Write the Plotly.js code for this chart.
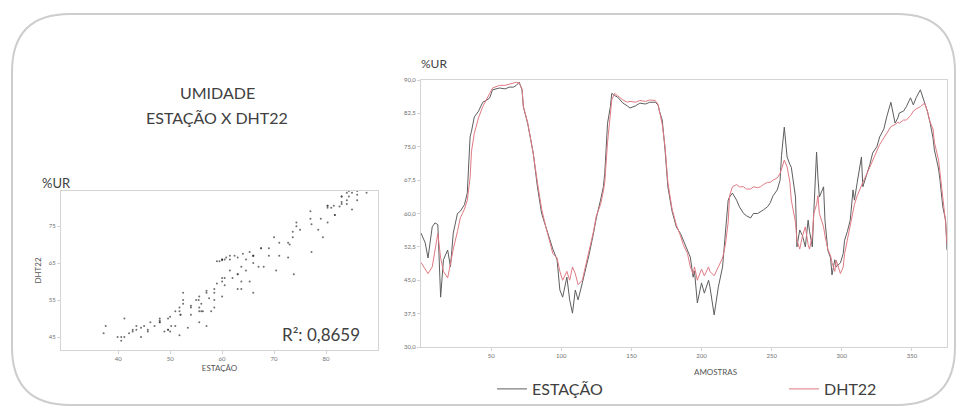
<!DOCTYPE html>
<html>
<head>
<meta charset="utf-8">
<script src="https://cdn.plot.ly/plotly-3.0.1.min.js"></script>
<style>html,body{margin:0;padding:0;background:#fff;}#chart{width:963px;height:414px;}</style>
</head>
<body>
<div id="chart"></div>
<script>
// Sample index (AMOSTRAS)
const amostras = [0,3,5,8,10,12,14,16,19,21,23,26,28,31,33,35,36,38,41,44,47,49,51,54,56,60,63,66,68,70,72,73,76,78,80,83,86,89,92,94,97,99,101,104,106,108,110,112,115,118,120,123,125,128,130,131,133,135,136,138,140,142,144,147,149,153,156,160,163,167,169,170,172,174,176,179,182,185,187,190,192,194,195,197,200,202,205,206,209,212,215,217,219,220,222,225,227,230,232,235,237,240,242,244,247,249,251,254,256,257,259,261,263,264,267,268,270,272,274,276,277,279,280,282,283,284,287,288,290,292,293,295,296,299,301,302,304,306,308,309,311,314,315,318,320,322,325,327,330,332,335,338,340,341,344,346,349,351,353,356,358,359,361,363,365,366,369,370,372,374,375];
// %UR – ESTAÇÃO (reference station)
const estacao = [55.6,53.4,50,57,57.9,57.5,41.2,49.6,51.8,48,55.6,60,60.5,62,64.6,77.2,78.5,81.7,83,85,85.5,86,87.8,88,88.2,88,88.4,88.4,88.8,89.5,87.8,84,80.3,77,73.6,66,60,57,54,52,49.6,42.8,41.2,45.7,40.6,37.6,42.8,40.6,44.4,48,51,55.6,59,63,66,69,80.3,84,87,86.5,86.2,85.5,84.8,84.2,83.7,84.2,84.8,84.6,85,85,84.4,83,81,74.3,66,60.5,57,55.5,54,52,50.2,45.7,47,39.9,44.4,42.1,45,43.5,37.2,43.5,48,55.6,63,63.7,64.6,63,61.5,60,59.5,59,60,60,60.5,60.8,61.5,62.4,64,65.3,67.5,73,79.4,72.7,71,70.4,63.7,52.5,56.3,55,52.5,58.5,56,52.5,60,73.8,68,63.7,66,58.5,51.8,50,46.2,49.6,48,48.9,51,54,56,58.5,65.3,63,67,72.7,66,69,71,73.6,75,77.2,79,81.7,85,80.3,81.5,82.6,83,84,86,84.4,86,87.8,86,84.8,83,80.3,77,74.3,70,67.5,61.5,58.5,51.8];
// %UR – DHT22 sensor
const dht22 = [49,47.5,46.5,48,52,55.5,50,47,45.5,49,52,56,59,61,63,68,74,78,81.5,84,86,87,88.2,88.5,88.8,88.8,89,89.2,89.5,89.3,88,84,80.5,77,73.5,67,61,57,53.5,51,50,47,45,47,45,48,46.5,44,45,49,52,56,59.5,62,65,67,76,82,85.5,87,86.5,86,85.5,85,85.2,85,85.4,85.2,85.5,85.4,84.5,83,80,75,67,61,57.5,55,53,51,48,46.5,48,45,47.5,46,48,47,46,48,50,53,58,64,66,66.5,66,66,65.5,65.5,66,65.8,66,66.5,67,67,67.5,68,69,70,72,70.5,67,63,58,54,52,55,57,53,52,55,60,62,64,60,57,55,52,50.5,49,47,49.5,46.5,48,51,54,57,60,62,64,66.5,67,69,70.5,72,74,75.5,77,78,79.5,80,80.5,80.3,81,81,82,83,83.5,84,84.5,84.8,83,80.5,79,76,72,69,63,58,53];

const tsYTicks = [30,37.5,45,52.5,60,67.5,75,82.5,90];
const tsXTicks = [50,100,150,200,250,300,350];
const scXTicks = [40,50,60,70,80];
const scYTicks = [45,55,65,75];
const r2Text = 'R²: 0,8659';

const W = 963, H = 414;
const px = v => v / W;
const py = v => 1 - v / H;

const grayLine = '#5e5e5e';
const redLine = '#e07a84';
const axisCol = '#d4d4d4';
const textCol = '#404040';
const FONT = 'Lato, "Open Sans", sans-serif';

const traces = [
  {
    type: 'scatter', mode: 'markers', x: estacao, y: dht22,
    xaxis: 'x', yaxis: 'y', showlegend: false,
    marker: {size: 2, color: '#333', opacity: 0.7},
    hoverinfo: 'skip', cliponaxis: true
  },
  {
    type: 'scatter', mode: 'lines', name: 'ESTAÇÃO', x: amostras, y: estacao,
    xaxis: 'x2', yaxis: 'y2', line: {color: grayLine, width: 1}, legend: 'legend'
  },
  {
    type: 'scatter', mode: 'lines', name: 'DHT22', x: amostras, y: dht22,
    xaxis: 'x2', yaxis: 'y2', line: {color: redLine, width: 1}, legend: 'legend2'
  }
];

// rounded frame path (pixel coords -> paper)
const L = 12, T = 14, R = 955, B = 405, rad = 58;
const P = (x, y) => px(x) + ',' + py(y);
const framePath = 'M ' + P(L + rad, T) + ' L ' + P(R - rad, T) +
  ' Q ' + P(R, T) + ' ' + P(R, T + rad) + ' L ' + P(R, B - rad) +
  ' Q ' + P(R, B) + ' ' + P(R - rad, B) + ' L ' + P(L + rad, B) +
  ' Q ' + P(L, B) + ' ' + P(L, B - rad) + ' L ' + P(L, T + rad) +
  ' Q ' + P(L, T) + ' ' + P(L + rad, T) + ' Z';

const tickFont = {family: FONT, size: 6, color: '#707070'};

const layout = {
  width: W, height: H,
  margin: {l: 0, r: 0, t: 0, b: 0, autoexpand: false},
  paper_bgcolor: '#fff', plot_bgcolor: '#fff',
  separators: ',.',
  font: {family: FONT, color: textCol},
  xaxis: {
    domain: [px(61), px(378)], anchor: 'y', range: [29, 90],
    tickvals: scXTicks, tickfont: tickFont, ticks: 'outside', ticklen: 3, tickcolor: axisCol,
    showgrid: false, zeroline: false, showline: true, linecolor: axisCol, mirror: true, linewidth: 1,
    title: {text: 'ESTAÇÃO', font: {family: FONT, size: 8, color: '#555'}, standoff: 4}
  },
  yaxis: {
    domain: [py(350), py(191)], anchor: 'x', range: [41.5, 84.5],
    tickvals: scYTicks, tickfont: tickFont, ticks: 'outside', ticklen: 3, tickcolor: axisCol,
    showgrid: false, zeroline: false, showline: true, linecolor: axisCol, mirror: true, linewidth: 1,
    title: {text: 'DHT22', font: {family: FONT, size: 8, color: '#555'}, standoff: 6}
  },
  xaxis2: {
    domain: [px(421), px(947)], anchor: 'y2', range: [0, 375],
    tickvals: tsXTicks, tickfont: tickFont, ticks: 'outside', ticklen: 3, tickcolor: axisCol,
    showgrid: false, zeroline: false, showline: true, linecolor: axisCol, mirror: true, linewidth: 1
  },
  yaxis2: {
    domain: [py(347), py(80)], anchor: 'x2', range: [30, 90],
    tickvals: tsYTicks, tickformat: '.1f', tickfont: tickFont, ticks: 'outside', ticklen: 3, tickcolor: axisCol,
    showgrid: false, zeroline: false, showline: true, linecolor: axisCol, mirror: true, linewidth: 1
  },
  legend: {
    x: px(492), y: py(372), xanchor: 'left', yanchor: 'top', orientation: 'h',
    font: {family: FONT, size: 16, color: textCol}, bgcolor: 'rgba(0,0,0,0)'
  },
  legend2: {
    x: px(784), y: py(372), xanchor: 'left', yanchor: 'top', orientation: 'h',
    font: {family: FONT, size: 16, color: textCol}, bgcolor: 'rgba(0,0,0,0)'
  },
  shapes: [
    {type: 'path', xref: 'paper', yref: 'paper', path: framePath,
     line: {color: '#cdcdcd', width: 2}, fillcolor: 'rgba(0,0,0,0)', layer: 'below'}
  ],
  annotations: [
    {xref: 'paper', yref: 'paper', x: px(217), y: py(92), text: 'UMIDADE', showarrow: false,
     font: {family: FONT, size: 16, color: textCol}, xanchor: 'center', yanchor: 'middle'},
    {xref: 'paper', yref: 'paper', x: px(217), y: py(118), text: 'ESTAÇÃO X DHT22', showarrow: false,
     font: {family: FONT, size: 16, color: textCol}, xanchor: 'center', yanchor: 'middle'},
    {xref: 'paper', yref: 'paper', x: px(40), y: py(183), text: '%UR', showarrow: false,
     font: {family: FONT, size: 13, color: textCol}, xanchor: 'left', yanchor: 'middle'},
    {xref: 'paper', yref: 'paper', x: px(419), y: py(63), text: '%UR', showarrow: false,
     font: {family: FONT, size: 12, color: textCol}, xanchor: 'left', yanchor: 'middle'},
    {xref: 'paper', yref: 'paper', x: px(362), y: py(334), text: r2Text, showarrow: false,
     font: {family: FONT, size: 17, color: textCol}, xanchor: 'right', yanchor: 'middle'},
    {xref: 'paper', yref: 'paper', x: px(715), y: py(372), text: 'AMOSTRAS', showarrow: false,
     font: {family: FONT, size: 8, color: '#555'}, xanchor: 'center', yanchor: 'middle'}
  ]
};

Plotly.newPlot('chart', traces, layout, {displayModeBar: false, staticPlot: true});
</script>
</body>
</html>
